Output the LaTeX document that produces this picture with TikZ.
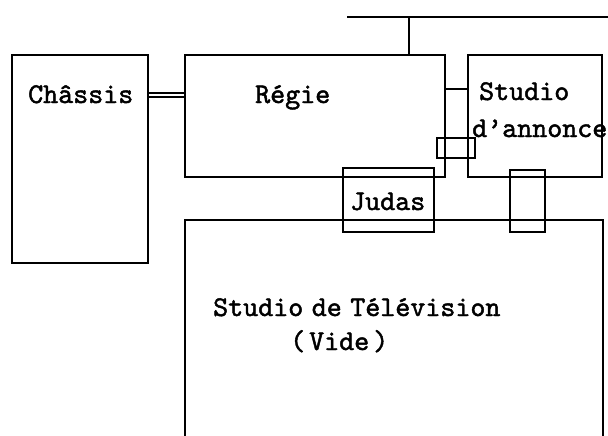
\documentclass[tikz,border=0pt]{standalone}
\usepackage{fontspec}
\newfontfamily\planfont{lmmono10-regular.otf}[FakeBold=1.6]
\begin{document}
\begin{tikzpicture}[x=1pt,y=-1pt,
  wall/.style={draw=black,line width=1.8pt},
  room/.style={wall,rectangle,inner sep=0pt,fill=none},
  lbl/.style={inner sep=0pt,anchor=base west,font=\fontsize{28.6}{30}\selectfont\planfont},
  dbl/.style={draw=black,double=white,double distance=2.6pt,line width=1.3pt}]
\useasboundingbox (0,0) rectangle (608,436);
% rooms
\node[room,minimum width=136pt,minimum height=208pt] (chassis) at (80,159) {};
\node[room,minimum width=260pt,minimum height=122pt] (regie) at (315,116) {};
\node[room,minimum width=134pt,minimum height=122pt] (annonce) at (535,116) {};
\node[room,minimum width=38pt,minimum height=20pt] (hublot) at (456,148) {};
\node[room,minimum width=91pt,minimum height=64pt] (judas) at (388.5,200) {};
\node[room,minimum width=35pt,minimum height=62pt] (porte) at (527.5,201) {};
% studio de television (open at bottom)
\coordinate (tvbl) at (185,436);
\coordinate (tvtl) at (185,220);
\coordinate (tvtr) at (603,220);
\coordinate (tvbr) at (603,436);
\draw[wall] (tvbl) -- (tvtl) -- (tvtr) -- (tvbr);
% top line and tap
\coordinate (busL) at (347,17);
\coordinate (busR) at (608,17);
\coordinate (tap) at (409,17);
\draw[wall] (busL) -- (busR);
\draw[wall] (tap) -- (tap |- regie.north);
% connectors
\coordinate (c1) at (0,89);
\draw[wall] (regie.east |- c1) -- (annonce.west |- c1);
\coordinate (c2) at (0,95);
\draw[dbl] (chassis.east |- c2) -- (regie.west |- c2);
% labels
\node[lbl] (tchassis) at (28,103) {Châssis};
\node[lbl] (tregie) at (255,103) {Régie};
\node[lbl] (tstudio) at (479,100) {Studio};
\node[lbl] (tannonce) at (472,137) {d’annonce};
\node[lbl] (tjudas) at (350,210) {Judas};
\node[lbl] (ttv) at (213,316) {\spaceskip=8.5pt Studio de Télévision};
\node[lbl] (tvide) at (290,350) {\spaceskip=4pt ( Vide )};
\end{tikzpicture}
\end{document}
